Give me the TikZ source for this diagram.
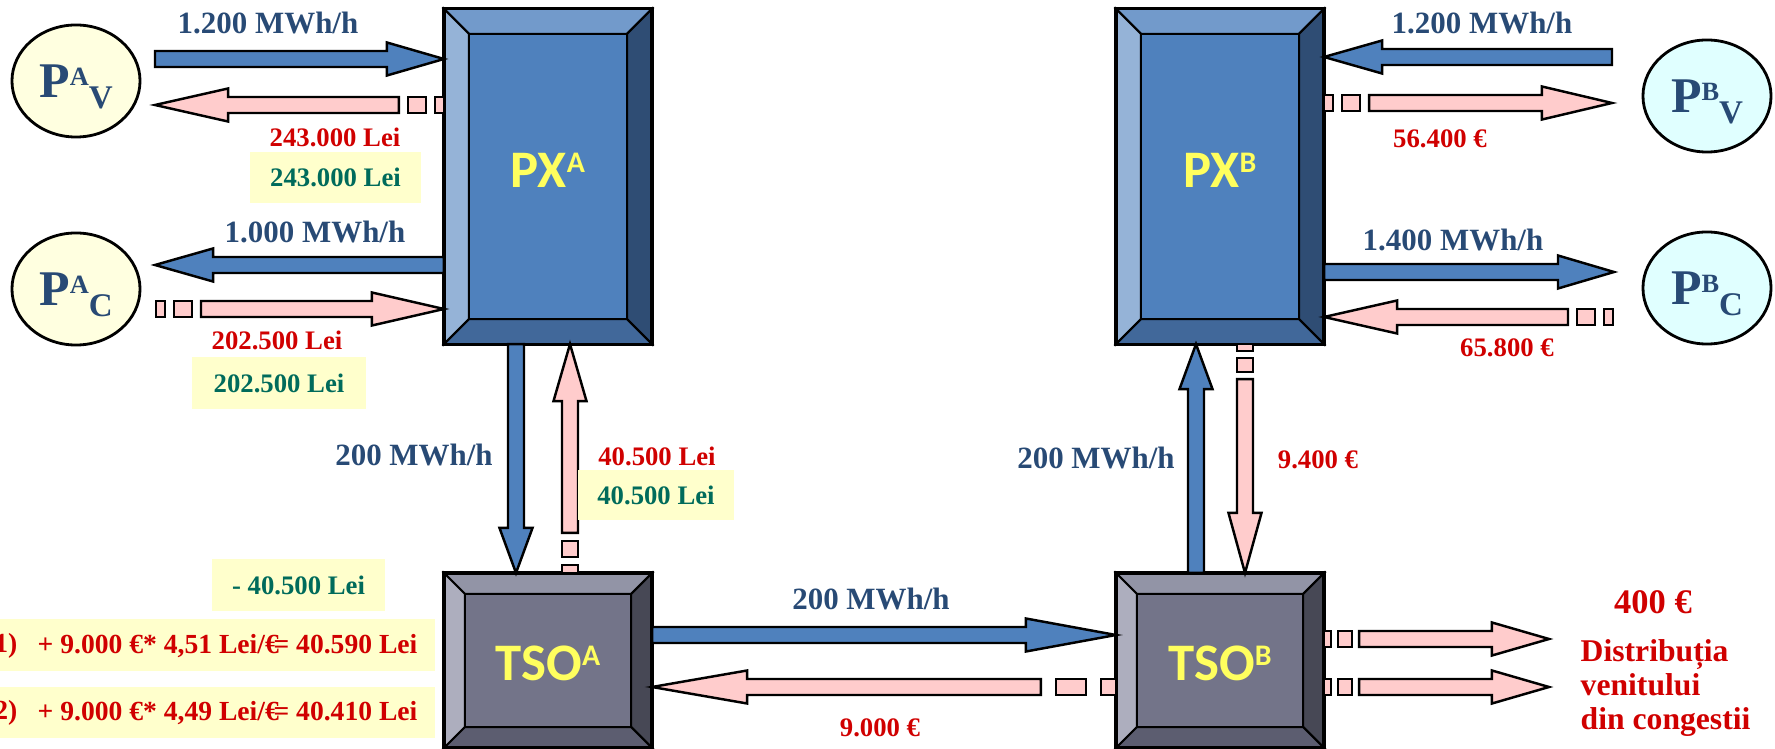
\documentclass[tikz,border=0pt]{standalone}
\usepackage{fontspec}
\setmainfont{Liberation Serif}
\newfontfamily\boxfont{Carlito}
\usetikzlibrary{calc,shapes.geometric}

\definecolor{flowblue}{HTML}{4F81BD}
\definecolor{paypink}{HTML}{FFCCCC}
\definecolor{qtyblue}{HTML}{284A75}
\definecolor{sumred}{HTML}{D00000}
\definecolor{notegreen}{HTML}{006B5B}
\definecolor{notefill}{HTML}{FFFFCC}
\definecolor{labelyellow}{HTML}{FFFF5E}
\definecolor{pafill}{HTML}{FFFFE0}
\definecolor{pbfill}{HTML}{E0FFFF}
\definecolor{pxtop}{HTML}{729ACB}
\definecolor{pxleft}{HTML}{95B3D7}
\definecolor{pxmid}{HTML}{4F81BD}
\definecolor{pxright}{HTML}{2F4D74}
\definecolor{pxbottom}{HTML}{41689A}
\definecolor{tsotop}{HTML}{9294A6}
\definecolor{tsoleft}{HTML}{ADAEBE}
\definecolor{tsomid}{HTML}{737489}
\definecolor{tsoright}{HTML}{474855}
\definecolor{tsobottom}{HTML}{5C5D70}

\newcommand{\shaftw}{0.08cm}
\newcommand{\headw}{0.165cm}
\newcommand{\plabel}[2]{P\raisebox{3.6pt}{\fontsize{7.5}{7.5}\selectfont #1}\raisebox{-3.1pt}{\fontsize{9.4}{9.4}\selectfont #2}}
\newcommand{\boxsup}[1]{\raisebox{4.2pt}{\fontsize{8.5}{8.5}\selectfont #1}}

% block arrow: style, from, to, head length
\newcommand{\flowarrow}[4]{%
	\coordinate (hb) at ($(#3)!#4!(#2)$);
	\draw[#1] ($(#2)!\shaftw!90:(#3)$) -- ($(hb)!\shaftw!90:(#3)$) -- ($(hb)!\headw!90:(#3)$) -- (#3)
		-- ($(hb)!\headw!-90:(#3)$) -- ($(hb)!\shaftw!-90:(#3)$) -- ($(#2)!\shaftw!-90:(#3)$) -- cycle;
}
% money arrow with broken tail: from, to, head length, tail unit
\newcommand{\moneyarrow}[4]{%
	\pgfmathsetlengthmacro{\tua}{#4*0.01cm}
	\pgfmathsetlengthmacro{\tub}{2*#4*0.01cm}
	\pgfmathsetlengthmacro{\tuc}{4*#4*0.01cm}
	\pgfmathsetlengthmacro{\tud}{5*#4*0.01cm}
	\coordinate (q1) at ($(#1)!\tua!(#2)$);
	\coordinate (q2) at ($(#1)!\tub!(#2)$);
	\coordinate (q3) at ($(#1)!\tuc!(#2)$);
	\coordinate (q4) at ($(#1)!\tud!(#2)$);
	\draw[pay] ($(#1)!\shaftw!90:(#2)$) -- ($(q1)!\shaftw!90:(#2)$) -- ($(q1)!\shaftw!-90:(#2)$) -- ($(#1)!\shaftw!-90:(#2)$) -- cycle;
	\draw[pay] ($(q2)!\shaftw!90:(#2)$) -- ($(q3)!\shaftw!90:(#2)$) -- ($(q3)!\shaftw!-90:(#2)$) -- ($(q2)!\shaftw!-90:(#2)$) -- cycle;
	\flowarrow{pay}{q4}{#2}{#3}
}
% bevelled box: name, centre, height, bevel, colour set
\newcommand{\bevelbox}[5]{%
	\node[boxbase, minimum height=#3] (#1) at (#2) {};
	\coordinate (#1-a) at ($(#1.north west)+(#4,#4)$);
	\coordinate (#1-b) at ($(#1.north east)+(-#4,#4)$);
	\coordinate (#1-c) at ($(#1.south east)+(-#4,-#4)$);
	\coordinate (#1-d) at ($(#1.south west)+(#4,-#4)$);
	\draw[face, fill=#5top] (#1.north west) -- (#1.north east) -- (#1-b) -- (#1-a) -- cycle;
	\draw[face, fill=#5left] (#1.north west) -- (#1-a) -- (#1-d) -- (#1.south west) -- cycle;
	\draw[face, fill=#5right] (#1.north east) -- (#1.south east) -- (#1-c) -- (#1-b) -- cycle;
	\draw[face, fill=#5bottom] (#1.south west) -- (#1-d) -- (#1-c) -- (#1.south east) -- cycle;
	\draw[face, fill=#5mid] (#1-a) rectangle (#1-c);
	\draw[line width=0.9pt] (#1.north west) rectangle (#1.south east);
}

\begin{document}
\begin{tikzpicture}[x=0.01cm, y=-0.01cm,
	flow/.style={draw=black, line width=0.7pt, fill=flowblue},
	pay/.style={draw=black, line width=0.7pt, fill=paypink},
	boxbase/.style={rectangle, minimum width=2.08cm, inner sep=0pt, outer sep=0pt},
	face/.style={draw=black, line width=0.6pt},
	boxlabel/.style={text=labelyellow, font=\boxfont\bfseries\fontsize{15}{15}\selectfont, inner sep=0pt},
	pcircle/.style={ellipse, draw=black, line width=0.8pt, minimum width=1.28cm, minimum height=1.12cm, inner sep=0pt},
	ptext/.style={text=qtyblue, font=\bfseries\fontsize{14.2}{14.2}\selectfont, inner sep=0pt},
	qty/.style={text=qtyblue, font=\bfseries\fontsize{8.8}{10}\selectfont, inner sep=0pt},
	sum/.style={text=sumred, font=\bfseries\fontsize{7.6}{9}\selectfont, inner sep=0pt},
	rate/.style={text=sumred, font=\bfseries\fontsize{7.85}{9}\selectfont, inner sep=0pt},
	note/.style={fill=notefill, text=notegreen, font=\bfseries\fontsize{7.6}{9}\selectfont, inner sep=0pt, minimum height=0.51cm}]
	\useasboundingbox (0,0) rectangle (1775,749);
%
	\bevelbox{PXA}{548,176.5}{3.35cm}{25}{px}
	\bevelbox{PXB}{1220,176.5}{3.35cm}{25}{px}
	\bevelbox{TSOA}{548,660.5}{1.75cm}{21}{tso}
	\bevelbox{TSOB}{1220,660.5}{1.75cm}{21}{tso}
	\node[boxlabel] (PXA-l) at ($(PXA)+(0,-6)$) {PX\boxsup{A}};
	\node[boxlabel] (PXB-l) at ($(PXB)+(0,-6)$) {PX\boxsup{B}};
	\node[boxlabel] (TSOA-l) at ($(TSOA)+(0,2.5)$) {TSO\boxsup{A}};
	\node[boxlabel] (TSOB-l) at ($(TSOB)+(0,2.5)$) {TSO\boxsup{B}};
%
	\node[pcircle, fill=pafill] (PAV) at (76,81) {};
	\node[ptext, anchor=base] (PAV-l) at (76,98) {\plabel{A}{V}};
	\node[pcircle, fill=pafill] (PAC) at (76,289) {};
	\node[ptext, anchor=base] (PAC-l) at (76,306) {\plabel{A}{C}};
	\node[pcircle, fill=pbfill] (PBV) at (1707,96) {};
	\node[ptext, anchor=base] (PBV-l) at (1707,113) {\plabel{B}{V}};
	\node[pcircle, fill=pbfill] (PBC) at (1707,288) {};
	\node[ptext, anchor=base] (PBC-l) at (1707,305) {\plabel{B}{C}};
%
	\coordinate (pav1) at (155,59);
	\coordinate (pxa1) at ($(PXA.west)+(0,-117.5)$);
	\flowarrow{flow}{pav1}{pxa1}{0.57cm}
	\coordinate (pav2) at (155,105);
	\coordinate (pxa2) at ($(PXA.west)+(0,-71.5)$);
	\moneyarrow{pxa2}{pav2}{0.73cm}{9}
	\coordinate (pac1) at (155,265);
	\coordinate (pxa3) at ($(PXA.west)+(0,88.5)$);
	\flowarrow{flow}{pxa3}{pac1}{0.58cm}
	\coordinate (pac2) at (156,309);
	\coordinate (pxa4) at ($(PXA.west)+(0,132.5)$);
	\moneyarrow{pac2}{pxa4}{0.72cm}{9}
%
	\coordinate (pxa5) at ($(PXA.south)+(-32,0)$);
	\coordinate (tsoa1) at ($(TSOA.north)+(-32,0)$);
	\flowarrow{flow}{pxa5}{tsoa1}{0.45cm}
	\coordinate (pxa6) at ($(PXA.south)+(22,0)$);
	\coordinate (tsoa2) at ($(TSOA.north)+(22,0)$);
	\moneyarrow{tsoa2}{pxa6}{0.57cm}{8}
	\coordinate (tsoa3) at ($(TSOA.east)+(0,-25.5)$);
	\coordinate (tsob1) at ($(TSOB.west)+(0,-25.5)$);
	\flowarrow{flow}{tsoa3}{tsob1}{0.9cm}
	\coordinate (tsoa4) at ($(TSOA.east)+(0,26.5)$);
	\coordinate (tsob2) at ($(TSOB.west)+(0,26.5)$);
	\moneyarrow{tsob2}{tsoa4}{0.95cm}{15}
	\coordinate (tsob3) at ($(TSOB.north)+(-24,0)$);
	\coordinate (pxb1) at ($(PXB.south)+(-24,0)$);
	\flowarrow{flow}{tsob3}{pxb1}{0.45cm}
	\coordinate (pxb2) at ($(PXB.south)+(25,0)$);
	\coordinate (tsob4) at ($(TSOB.north)+(25,0)$);
	\moneyarrow{pxb2}{tsob4}{0.6cm}{7}
%
	\coordinate (pbv1) at (1612,57);
	\coordinate (pxb3) at ($(PXB.east)+(0,-119.5)$);
	\flowarrow{flow}{pbv1}{pxb3}{0.58cm}
	\coordinate (pbv2) at (1612,103);
	\coordinate (pxb4) at ($(PXB.east)+(0,-73.5)$);
	\moneyarrow{pxb4}{pbv2}{0.70cm}{9}
	\coordinate (pbc1) at (1614,272);
	\coordinate (pxb5) at ($(PXB.east)+(0,95.5)$);
	\flowarrow{flow}{pxb5}{pbc1}{0.56cm}
	\coordinate (pbc2) at (1613,317);
	\coordinate (pxb6) at ($(PXB.east)+(0,140.5)$);
	\moneyarrow{pbc2}{pxb6}{0.73cm}{9}
	\coordinate (tsob5) at ($(TSOB.east)+(0,-21.5)$);
	\coordinate (dist1) at (1549,639);
	\moneyarrow{tsob5}{dist1}{0.57cm}{7}
	\coordinate (tsob6) at ($(TSOB.east)+(0,26.5)$);
	\coordinate (dist2) at (1549,687);
	\moneyarrow{tsob6}{dist2}{0.57cm}{7}
%
	\node[qty] (q1) at (268,23) {1.200 MWh/h};
	\node[sum] (s1) at (335,137) {243.000 Lei};
	\node[note, minimum width=1.71cm] (n1) at (335.5,177.5) {243.000 Lei};
	\node[qty] (q2) at (315,232) {1.000 MWh/h};
	\node[sum] (s2) at (277,340) {202.500 Lei};
	\node[note, minimum width=1.74cm, minimum height=0.52cm] (n2) at (279,383) {202.500 Lei};
	\node[qty] (q3) at (414,455) {200 MWh/h};
	\node[sum] (s3) at (657,456) {40.500 Lei};
	\node[note, minimum width=1.56cm, minimum height=0.50cm] (n3) at (656,495) {40.500 Lei};
	\node[note, minimum width=1.73cm, minimum height=0.52cm] (n4) at (298.5,585) {- 40.500 Lei};
	\node[note, minimum width=4.35cm, minimum height=0.52cm] (n5) at (217.5,645) {};
	\node[rate, anchor=east] (n5-k) at (18,646) {1)};
	\node[rate, anchor=west] (n5-t) at (37,646) {+ 9.000 €* 4,51 Lei/€\kern-1.5pt= 40.590 Lei};
	\node[note, minimum width=4.35cm, minimum height=0.51cm] (n6) at (217.5,712.5) {};
	\node[rate, anchor=east] (n6-k) at (18,713) {2)};
	\node[rate, anchor=west] (n6-t) at (37,713) {+ 9.000 €* 4,49 Lei/€\kern-1.5pt= 40.410 Lei};
	\node[qty] (q4) at (871,599) {200 MWh/h};
	\node[sum] (s4) at (880,728) {9.000 €};
	\node[qty] (q5) at (1096,458) {200 MWh/h};
	\node[sum] (s5) at (1318,460) {9.400 €};
	\node[qty] (q6) at (1482,23) {1.200 MWh/h};
	\node[sum] (s6) at (1440,139) {56.400 €};
	\node[qty] (q7) at (1453,240) {1.400 MWh/h};
	\node[sum] (s7) at (1507,348) {65.800 €};
	\node[sum, font=\bfseries\fontsize{9.8}{11}\selectfont] (s8) at (1653,602) {400 €};
	\node[sum, font=\bfseries\fontsize{9}{9.7}\selectfont, align=left, anchor=west] (s9) at (1580,688) {Distribuția\\venitului\\din congestii};
\end{tikzpicture}
\end{document}
